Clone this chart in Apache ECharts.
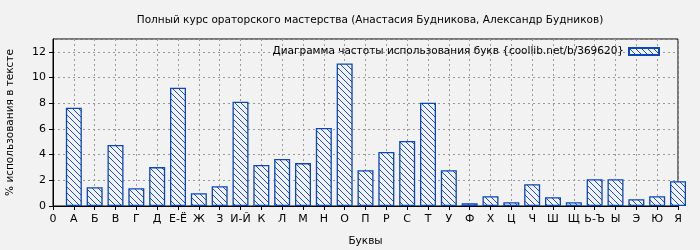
<!DOCTYPE html>
<html><head><meta charset="utf-8">
<script src="https://cdn.jsdelivr.net/npm/echarts@6/dist/echarts.min.js"></script>
<style>html,body{margin:0;padding:0;background:#f2f2f2;}#c{width:700px;height:250px;}</style>
</head><body><div id="c"></div>
<script>
const titleText = "Полный курс ораторского мастерства (Анастасия Будникова, Александр Будников)";
const seriesName = "Диаграмма частоты использования букв {coollib.net/b/369620}";
const categories = ["0","А","Б","В","Г","Д","Е-Ё","Ж","З","И-Й","К","Л","М","Н","О","П","Р","С","Т","У","Ф","Х","Ц","Ч","Ш","Щ","Ь-Ъ","Ы","Э","Ю","Я"];
const values = [null,7.65,1.46,4.75,1.38,3.03,9.21,0.99,1.54,8.12,3.19,3.66,3.34,6.08,11.1,2.79,4.2,5.06,8.04,2.79,0.21,0.76,0.29,1.70,0.68,0.29,2.09,2.09,0.52,0.76,1.93];
const yTicks = [0,2,4,6,8,10,12];

function hatch(){
  const c = document.createElement('canvas');
  c.width = 6; c.height = 6;
  const g = c.getContext('2d');
  g.fillStyle = '#f2f2f2'; g.fillRect(0,0,6,6);
  g.fillStyle = '#1a4fc4';
  for (let i=0;i<6;i++) g.fillRect(i,i,1,1);
  return c;
}
const pat = {image: hatch(), repeat: 'repeat'};
const font = 'DejaVu Sans';
const fs = 10.5;
const chart = echarts.init(document.getElementById('c'));
chart.setOption({
  backgroundColor: '#f2f2f2',
  animation: false,
  textStyle: {fontFamily: font},
  title: {text: titleText, left: 365, textAlign: 'center', top: 10, textStyle: {fontSize: fs, fontWeight: 'normal', color: '#000', fontFamily: font}},
  legend: {
    right: 35, top: 41, align: 'right', itemWidth: 30, itemHeight: 7, itemGap: 6,
    textStyle: {fontSize: fs, color: '#000', fontFamily: font},
    data: [{name: seriesName, icon: 'rect'}]
  },
  grid: {left: 53, right: 22, top: 39, bottom: 44, outerBoundsMode: 'none', containLabel: false, show: true, borderColor: '#000', borderWidth: 1, backgroundColor: 'transparent'},
  xAxis: {
    type: 'category', data: categories, boundaryGap: false,
    name: 'Буквы', nameLocation: 'middle', nameGap: 30,
    nameTextStyle: {fontSize: fs, color: '#000', fontFamily: font},
    axisLine: {lineStyle: {color: '#000', width: 1}},
    axisTick: {show: true, length: 4, lineStyle: {color: '#000'}, interval: 0},
    axisLabel: {interval: 0, fontSize: 11, color: '#000', margin: 8, fontFamily: font},
    splitLine: {show: true, interval: 0, lineStyle: {color: '#999', type: [2,3], width: 1}}
  },
  yAxis: {
    type: 'value', min: 0, max: 13, interval: 2,
    name: '% использования в тексте', nameLocation: 'middle', nameGap: 37, nameRotate: 90,
    nameTextStyle: {fontSize: fs, color: '#000', fontFamily: font},
    axisLine: {show: true, lineStyle: {color: '#000', width: 1}},
    axisTick: {show: true, length: 4, lineStyle: {color: '#000'}},
    axisLabel: {fontSize: 11, color: '#000', margin: 7, fontFamily: font, showMaxLabel: false,
      formatter: v => yTicks.includes(v) ? String(v) : ''},
    splitLine: {show: true, lineStyle: {color: '#999', type: [2,3], width: 1}}
  },
  series: [{
    name: seriesName, type: 'bar', data: values, barWidth: 16, clip: true,
    itemStyle: {color: pat, borderColor: '#0a46bd', borderWidth: 1.3}
  }]
});
</script></body></html>
